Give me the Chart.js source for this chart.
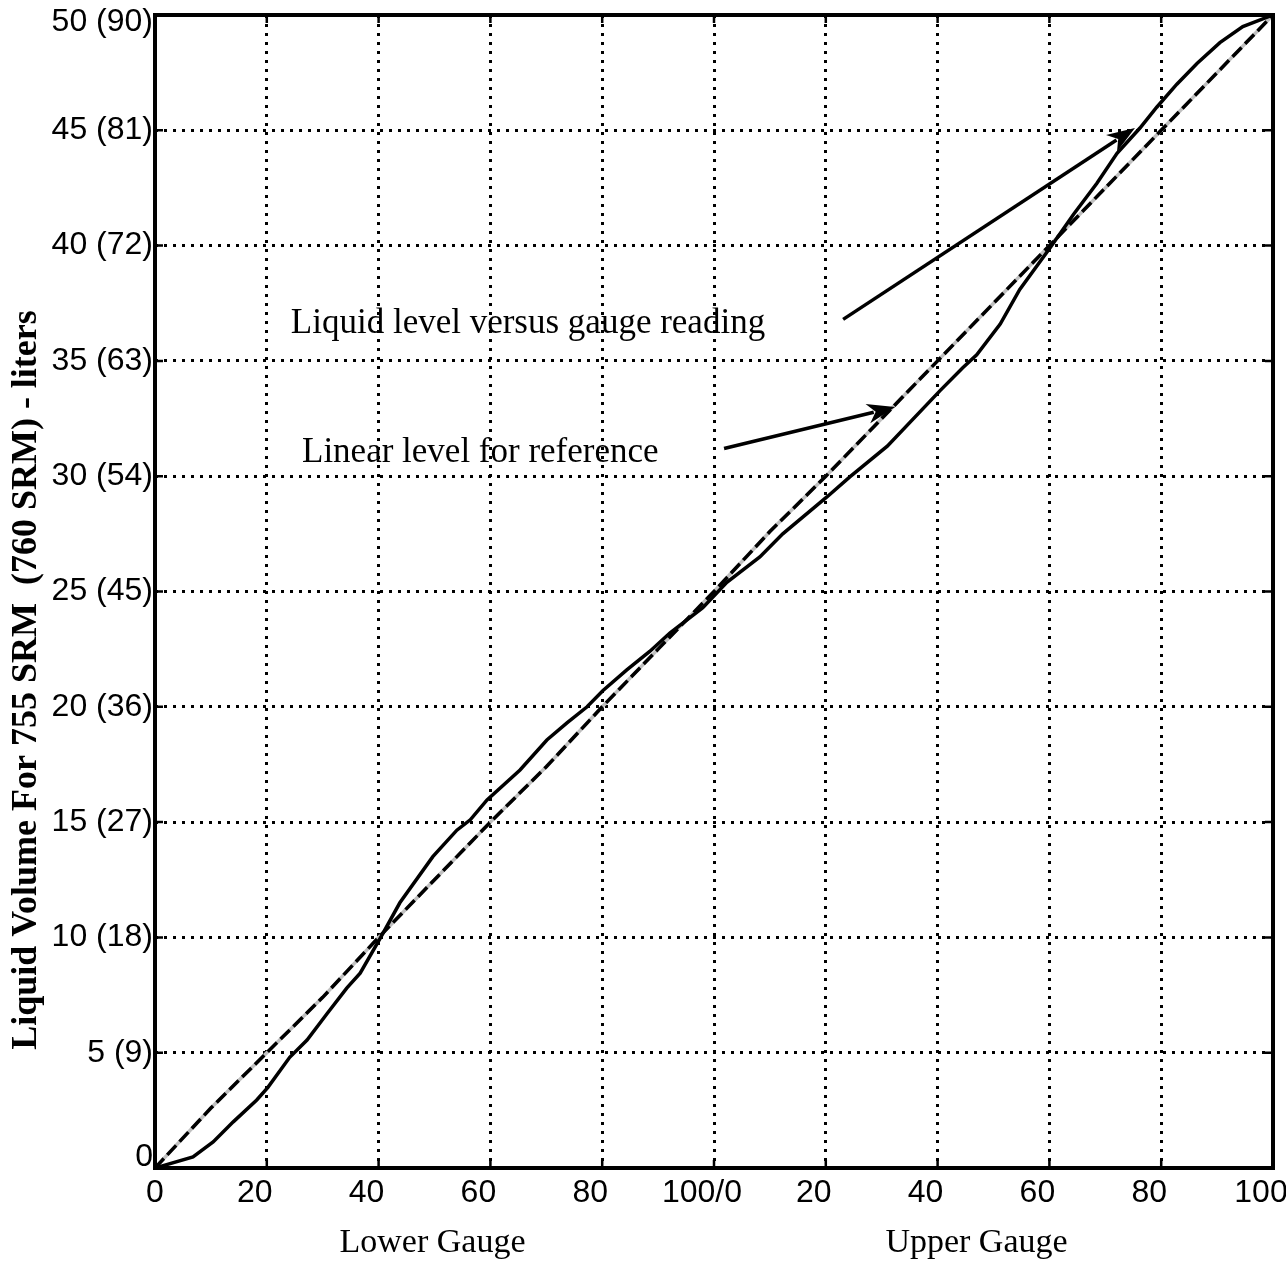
<!DOCTYPE html>
<html>
<head>
<meta charset="utf-8">
<title>Liquid volume vs gauge reading</title>
<script src="https://cdn.jsdelivr.net/npm/chart.js@4.4.0/dist/chart.umd.min.js"></script>
<style>
    html, body { margin: 0; padding: 0; background: #fff; }
    #wrap { width: 1286px; height: 1269px; }
</style>
</head>
<body>
<div id="wrap"><canvas id="gaugeChart" width="1286" height="1269"></canvas></div>
<script>
// Gauge reading: 0-100 lower gauge, 100-200 upper gauge
const levelX = [0, 6.8, 10.4, 14, 18.2, 20.2, 24.1, 27.2, 30.8, 34.3, 36.7, 40.3, 43.8, 49.7, 54, 56.4, 59.4,
    65.3, 70.1, 73.7, 77.3, 80.1, 84.4, 88.5, 92.1, 98, 102.3, 108.2, 112.3, 120.2, 124.3, 131, 140.4,
    144.5, 147, 151.2, 154.7, 160.1, 164.3, 168.5, 172.1, 176.2, 179.2, 182.8, 186.4, 190.5, 194.6, 200];
const levelY = [0, 0.48, 1.13, 2.0, 2.95, 3.5, 4.8, 5.55, 6.7, 7.8, 8.45, 9.97, 11.5, 13.5, 14.65, 15.1, 15.96,
    17.26, 18.56, 19.3, 20.0, 20.7, 21.6, 22.4, 23.2, 24.3, 25.4, 26.5, 27.5, 29.1, 29.97, 31.3, 33.7,
    34.7, 35.26, 36.6, 38.1, 39.9, 41.35, 42.7, 44.0, 45.1, 46.0, 47.0, 47.9, 48.8, 49.5, 50];

// Linear reference
const refX = [0, 10, 20, 30, 40, 50, 60, 70, 80, 90, 100, 110, 120, 130, 140, 150, 160, 170, 180, 190, 200];
const refY = [0, 2.6, 5.0, 7.4, 10, 12.5, 15, 17.4, 20, 22.5, 25, 27.6, 30, 32.5, 35, 37.5, 40, 42.5, 45, 47.5, 50];

const xTickLabels = { 0: '0', 20: '20', 40: '40', 60: '60', 80: '80', 100: '100/0',
    120: '20', 140: '40', 160: '60', 180: '80', 200: '100' };
const yTickLabels = { 0: '0', 5: '5 (9)', 10: '10 (18)', 15: '15 (27)', 20: '20 (36)', 25: '25 (45)',
    30: '30 (54)', 35: '35 (63)', 40: '40 (72)', 45: '45 (81)', 50: '50 (90)' };

const notes = [
    { text: 'Liquid level versus gauge reading', x: 24.3, y: 36.6, fromX: 123.1, fromY: 36.8, toX: 175.3, toY: 45.1 },
    { text: 'Linear level for reference', x: 26.3, y: 31.0, fromX: 101.8, fromY: 31.2, toX: 132.4, toY: 33.0 }
];

const toPoints = (xs, ys) => xs.map((x, i) => ({ x: x, y: ys[i] }));

const SANS = '"Liberation Sans", Arial, sans-serif';
const SERIF = '"Liberation Serif", "Times New Roman", serif';

function arrow(ctx, x1, y1, x2, y2) {
    const ang = Math.atan2(y2 - y1, x2 - x1);
    const len = 28, half = 10;
    const bx = x2 - len * Math.cos(ang), by = y2 - len * Math.sin(ang);
    ctx.beginPath();
    ctx.moveTo(x1, y1);
    ctx.lineTo(bx + 6 * Math.cos(ang), by + 6 * Math.sin(ang));
    ctx.stroke();
    ctx.beginPath();
    ctx.moveTo(x2, y2);
    ctx.lineTo(bx + half * Math.sin(ang), by - half * Math.cos(ang));
    ctx.lineTo(bx + 8 * Math.cos(ang), by + 8 * Math.sin(ang));
    ctx.lineTo(bx - half * Math.sin(ang), by + half * Math.cos(ang));
    ctx.closePath();
    ctx.fill();
}

const framePlugin = {
    id: 'frame',
    afterDraw(chart) {
        const { ctx, chartArea: a, scales: { x, y } } = chart;
        ctx.save();
        ctx.strokeStyle = '#000';
        ctx.fillStyle = '#000';

        // tick marks pointing inward
        ctx.lineWidth = 2.5;
        ctx.beginPath();
        Object.keys(xTickLabels).forEach(v => {
            const px = x.getPixelForValue(+v);
            ctx.moveTo(px, a.bottom); ctx.lineTo(px, a.bottom - 8);
            ctx.moveTo(px, a.top); ctx.lineTo(px, a.top + 8);
        });
        Object.keys(yTickLabels).forEach(v => {
            const py = y.getPixelForValue(+v);
            ctx.moveTo(a.left, py); ctx.lineTo(a.left + 8, py);
            ctx.moveTo(a.right, py); ctx.lineTo(a.right - 8, py);
        });
        ctx.stroke();

        // box
        ctx.lineWidth = 4;
        ctx.strokeRect(a.left, a.top, a.right - a.left, a.bottom - a.top);

        // tick labels (kept inside the page like the original)
        ctx.font = '32px ' + SANS;
        ctx.textBaseline = 'middle';
        ctx.textAlign = 'center';
        Object.keys(xTickLabels).forEach(v => {
            const shift = +v === 0 ? 0 : -12;
            ctx.fillText(xTickLabels[v], x.getPixelForValue(+v) + shift, a.bottom + 25);
        });
        ctx.textAlign = 'right';
        Object.keys(yTickLabels).forEach(v => {
            const py = Math.min(Math.max(y.getPixelForValue(+v), a.top + 7), a.bottom - 11);
            ctx.fillText(yTickLabels[v], a.left - 2, py);
        });

        // annotations
        ctx.font = '35px ' + SERIF;
        ctx.textAlign = 'left';
        ctx.lineWidth = 3.5;
        notes.forEach(n => {
            ctx.fillText(n.text, x.getPixelForValue(n.x), y.getPixelForValue(n.y));
            arrow(ctx, x.getPixelForValue(n.fromX), y.getPixelForValue(n.fromY),
                x.getPixelForValue(n.toX), y.getPixelForValue(n.toY));
        });

        // axis titles
        ctx.textAlign = 'center';
        ctx.font = '34px ' + SERIF;
        ctx.fillText('Lower Gauge', x.getPixelForValue(50) - 2, 1243);
        ctx.fillText('Upper Gauge', x.getPixelForValue(150) - 17, 1243);

        ctx.translate(27, 680);
        ctx.rotate(-Math.PI / 2);
        ctx.font = 'bold 36px ' + SERIF;
        ctx.fillText('Liquid Volume For 755 SRM  (760 SRM) - liters', 0, 0);
        ctx.restore();
    }
};

const ctx = document.getElementById('gaugeChart').getContext('2d');
new Chart(ctx, {
    type: 'scatter',
    data: {
        datasets: [
            {
                label: 'Liquid level',
                data: toPoints(levelX, levelY),
                showLine: true,
                borderColor: '#000',
                borderWidth: 3.5,
                pointRadius: 0,
                tension: 0
            },
            {
                label: 'Linear (dash)',
                data: toPoints(refX, refY),
                showLine: true,
                borderColor: '#000',
                borderWidth: 3.5,
                borderDash: [13, 5],
                pointRadius: 0,
                tension: 0
            },
            {
                label: 'Linear (base)',
                data: toPoints(refX, refY),
                showLine: true,
                borderColor: '#c0c0c0',
                borderWidth: 3.5,
                pointRadius: 0,
                tension: 0
            }
        ]
    },
    options: {
        responsive: false,
        animation: false,
        layout: { padding: { top: 15, right: 13, left: 0, bottom: 0 } },
        plugins: { legend: { display: false }, tooltip: { enabled: false } },
        scales: {
            x: {
                type: 'linear',
                min: 0,
                max: 200,
                afterFit: scale => {
                    scale.height = 101;
                    scale.paddingLeft = 0;
                    scale.paddingRight = 0;
                },
                afterBuildTicks: scale => {
                    scale.ticks = Object.keys(xTickLabels).map(v => ({ value: +v }));
                },
                ticks: { display: false },
                grid: { color: '#000', lineWidth: 3, drawTicks: false },
                border: { display: false, dash: [3, 6] }
            },
            y: {
                type: 'linear',
                min: 0,
                max: 50,
                afterFit: scale => {
                    scale.width = 155;
                    scale.paddingTop = 0;
                    scale.paddingBottom = 0;
                },
                afterBuildTicks: scale => {
                    scale.ticks = Object.keys(yTickLabels).map(v => ({ value: +v }));
                },
                ticks: { display: false },
                grid: { color: '#000', lineWidth: 3, drawTicks: false },
                border: { display: false, dash: [3, 6] }
            }
        }
    },
    plugins: [framePlugin]
});
</script>
</body>
</html>
